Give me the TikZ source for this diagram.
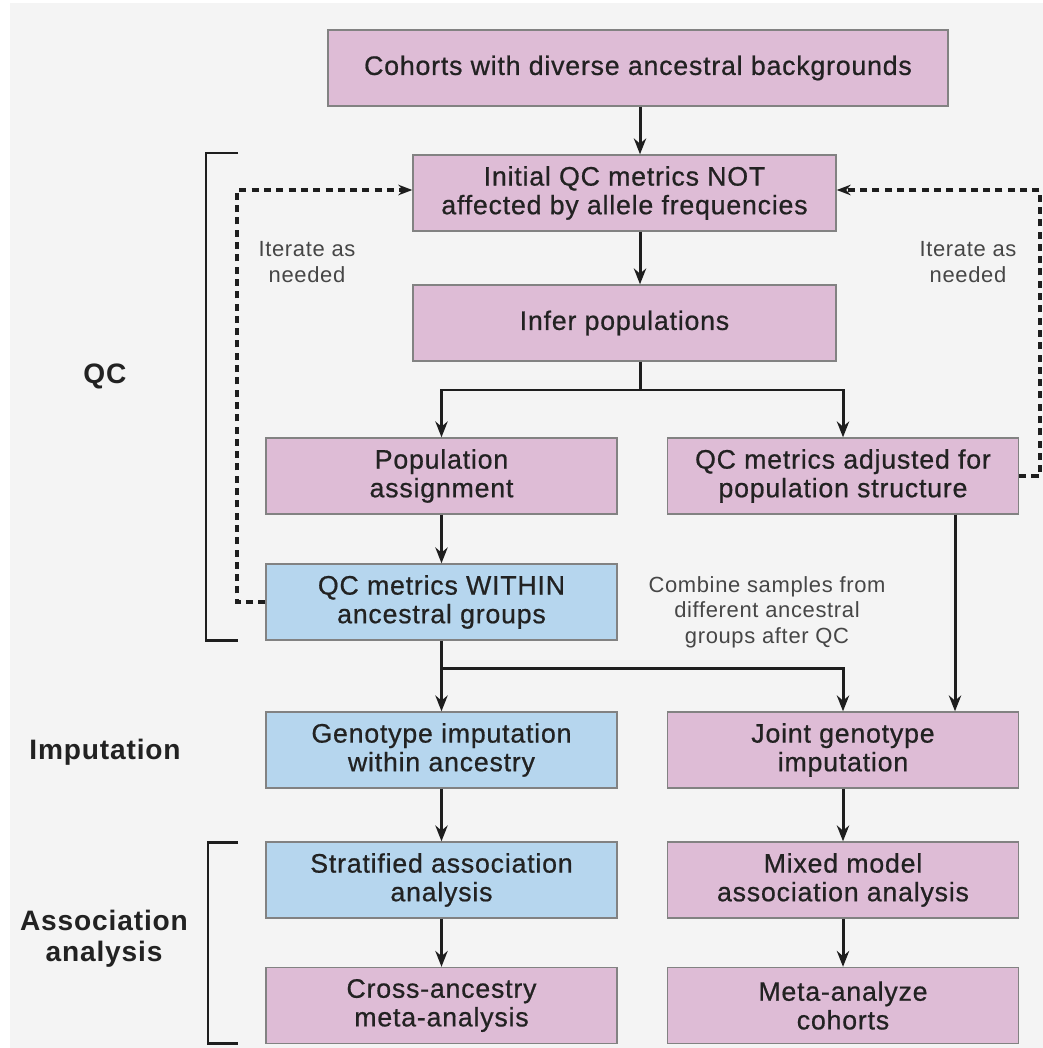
\documentclass[tikz,border=0pt]{standalone}
\usepackage{fontspec}
\setmainfont[LetterSpace=3]{Liberation Sans}
\newfontfamily\boxfont[LetterSpace=3,FakeBold=0.7]{Liberation Sans}
\usetikzlibrary{arrows.meta}
\definecolor{qcpink}{RGB}{222,188,214}
\definecolor{qcblue}{RGB}{182,214,238}
\definecolor{qcback}{RGB}{244,244,244}
\definecolor{qctext}{RGB}{34,34,34}
\begin{document}
\begin{tikzpicture}[%
x=0.02cm, y=-0.02cm,
stepbox/.style={draw={rgb,255:red,130;green,130;blue,130}, line width=0.8pt, fill=qcpink,
  minimum width=7.02cm, minimum height=1.52cm, align=center, text=qctext,
  font=\boxfont\fontsize{15.2}{16.3}\selectfont, inner sep=2pt},
bluebox/.style={stepbox, fill=qcblue},
flow/.style={draw={rgb,255:red,30;green,30;blue,30}, line width=1.7pt, -{Stealth[length=9pt,width=7pt]}},
link/.style={draw={rgb,255:red,30;green,30;blue,30}, line width=1.7pt},
loop/.style={draw={rgb,255:red,30;green,30;blue,30}, line width=1.8pt, dash pattern=on 4pt off 3pt, -{Stealth[length=8pt,width=6pt]}},
bracket/.style={draw={rgb,255:red,30;green,30;blue,30}, line width=1.7pt},
phase/.style={font=\fontsize{16}{17.5}\selectfont\bfseries, align=center, text=qctext},
note/.style={font=\fontsize{12.5}{14.5}\selectfont, align=center, text={rgb,255:red,70;green,70;blue,70}},
]
\useasboundingbox (0,0) rectangle (1043,1048);
\fill[white] (0,0) rectangle (1043,1048);
\fill[qcback] (10,3) rectangle (1043,1048);
%% boxes;
\node[stepbox, minimum width=12.4cm] (cohorts) at (638,68) {Cohorts with diverse ancestral backgrounds};
\node[stepbox, minimum width=8.46cm] (initial) at (624.5,193) {Initial QC metrics NOT\\affected by allele frequencies};
\node[stepbox, minimum width=8.46cm] (infer) at (624.5,323) {Infer populations};
\node[stepbox] (assign) at (441.5,476) {Population\\assignment};
\node[stepbox] (adjusted) at (843,476) {QC metrics adjusted for\\population structure};
\node[bluebox] (within) at (441.5,602) {QC metrics WITHIN\\ancestral groups};
\node[bluebox] (genoimp) at (441.5,750) {Genotype imputation\\within ancestry};
\node[stepbox] (jointimp) at (843,750) {Joint genotype\\imputation};
\node[bluebox] (strat) at (441.5,880) {Stratified association\\analysis};
\node[stepbox] (mixed) at (843,880) {Mixed model\\association analysis};
\node[stepbox] (cross) at (441.5,1005.5) {Cross-ancestry\\meta-analysis};
\node[stepbox] (meta) at (843,1005.5) {Meta-analyze\\cohorts};
%% branch points;
\coordinate (split) at (640,390);
\coordinate (merge) at (441.5,668);
\coordinate (leftloop) at (237,190);
\coordinate (rightloop) at (1040,190);
%% arrows;
\draw[flow] (cohorts.south -| split) -- (initial.north -| split);
\draw[flow] (initial.south -| split) -- (infer.north -| split);
\draw[link] (infer.south -| split) -- (split);
\draw[flow] (split) -| (assign.north);
\draw[flow] (split) -| (adjusted.north);
\draw[flow] (assign) -- (within);
\draw[link] (within.south) -- (merge);
\draw[flow] (merge) -- (genoimp.north);
\draw[flow] (merge) -| (jointimp.north);
\draw[flow] (adjusted.south -| 955,0) -- (jointimp.north -| 955,0);
\draw[flow] (genoimp) -- (strat);
\draw[flow] (strat) -- (cross);
\draw[flow] (jointimp) -- (mixed);
\draw[flow] (mixed) -- (meta);
%% iterate loops;
\draw[loop] (within.west) -| (leftloop) -- (initial.west |- leftloop);
\draw[loop] (adjusted.east) -| (rightloop) -- (initial.east |- rightloop);
%% brackets;
\draw[bracket] (238,153) -- (206,153) -- (206,640) -- (238,640);
\draw[bracket] (238,842) -- (208,842) -- (208,1043) -- (238,1043);
%% labels;
\node[phase] (qclabel) at (105,376) {QC};
\node[phase] (implabel) at (105,752) {Imputation};
\node[phase] (asslabel) at (104,939) {Association\\analysis};
\node[note] (iterleft) at (307,262) {Iterate as\\needed};
\node[note] (iterright) at (968,262) {Iterate as\\needed};
\node[note] (combine) at (767,612) {Combine samples from\\different ancestral\\groups after QC};
\end{tikzpicture}
\end{document}
